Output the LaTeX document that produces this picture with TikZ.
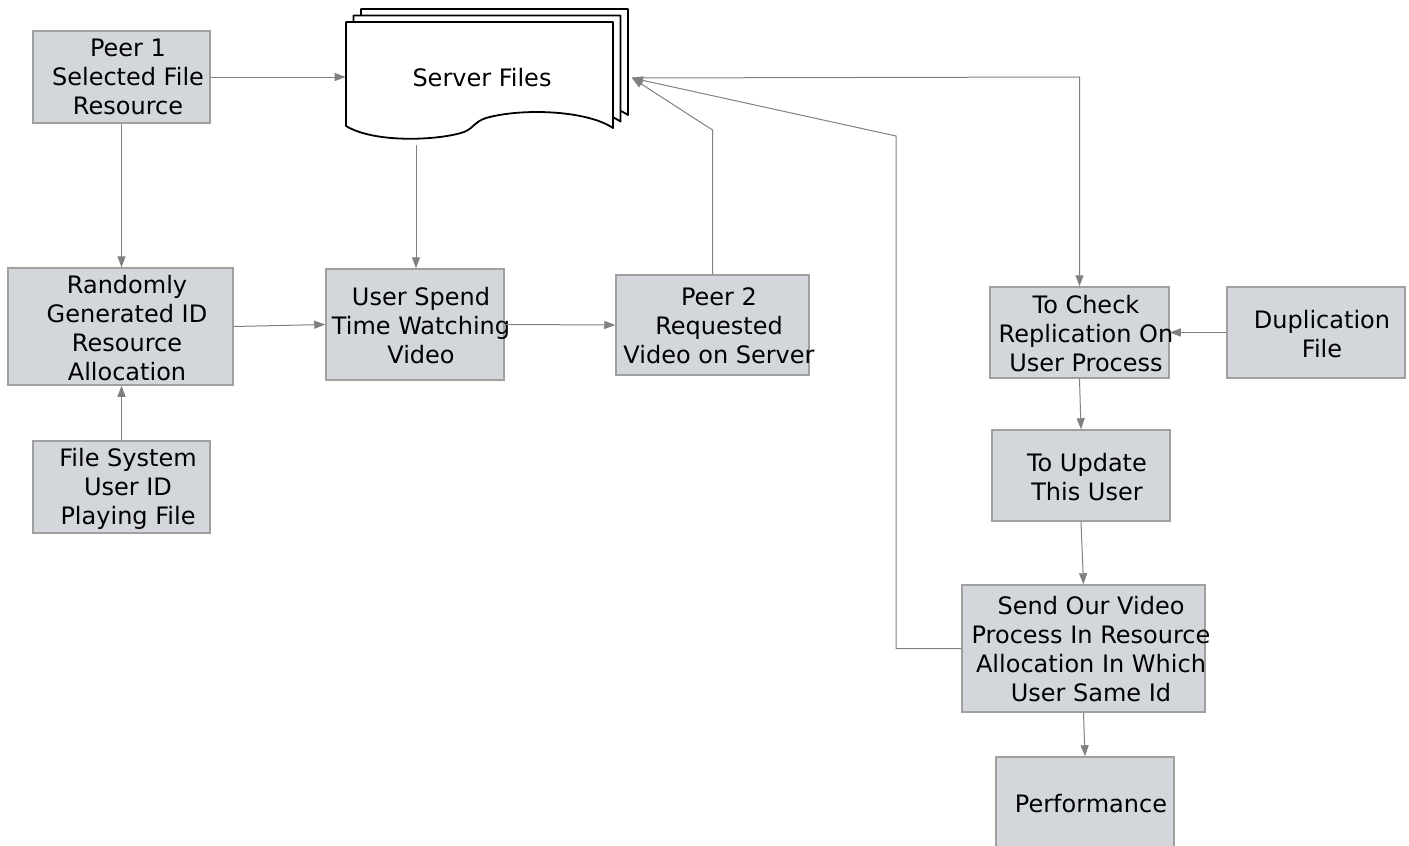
\documentclass[tikz,border=0pt]{standalone}
\usepackage{fontspec}
\setmainfont{DejaVu Sans}
\usetikzlibrary{arrows.meta,calc}
\definecolor{boxfill}{RGB}{211,215,220}
\definecolor{boxline}{RGB}{160,160,160}
\definecolor{arrgray}{RGB}{128,128,128}
\tikzset{
  box/.style={draw=boxline, fill=boxfill, line width=0.75pt, rectangle, inner sep=0pt},
  txt/.style={align=center, inner sep=0pt, font=\fontsize{12}{14.5}\selectfont},
  arr/.style={draw=arrgray, line width=0.5pt, -{Triangle[length=5.5pt,width=4pt]}},
  doc/.pic={
    \draw[fill=white, line width=0.9pt, line join=round]
      (0,0) -- (267,0) -- (267,106)
      .. controls (240,88) and (175,86) .. (140,96)
      .. controls (128,100) and (128,106) .. (118,110)
      .. controls (95,118) and (30,122) .. (0,104) -- cycle;
  }
}
\begin{document}
\begin{tikzpicture}[x=0.5pt, y=-0.5pt]
\useasboundingbox (0,0) rectangle (1409,846);
\clip (0,0) rectangle (1409,846);

% Server files (multi-document)
\pic at (361,9) {doc};
\pic at (353.5,15.5) {doc};
\pic at (346,22) {doc};
\node[minimum width=133.5pt, minimum height=55pt, inner sep=0pt] (server) at (479.5,77) {};
\node[txt] (serverl) at (482,78) {Server Files};

% Boxes
\node[box, minimum width=88.5pt, minimum height=46pt] (peer1) at (121.5,77) {};
\node[txt] (peer1l) at (128,77) {Peer 1\\Selected File\\Resource};

\node[box, minimum width=112.5pt, minimum height=58.5pt] (rand) at (120.5,326.5) {};
\node[txt] (randl) at (127,328) {Randomly\\Generated ID\\Resource\\Allocation};

\node[box, minimum width=89pt, minimum height=55.5pt] (user) at (415,324.5) {};
\node[txt] (userl) at (421,326) {User Spend\\Time Watching\\Video};

\node[box, minimum width=96.5pt, minimum height=50pt] (peer2) at (712.5,325) {};
\node[txt] (peer2l) at (719,326) {Peer 2\\Requested\\Video on Server};

\node[box, minimum width=88.5pt, minimum height=46pt] (fsys) at (121.5,487) {};
\node[txt] (fsysl) at (128,489) {File System\\User ID\\Playing File};

\node[box, minimum width=89.5pt, minimum height=45.5pt] (check) at (1079.5,332.5) {};
\node[txt] (checkl) at (1086,334) {To Check\\Replication On\\User Process};

\node[box, minimum width=89pt, minimum height=45.5pt] (dup) at (1316,332.5) {};
\node[txt] (dupl) at (1322,334) {Duplication\\File};

\node[box, minimum width=89pt, minimum height=45.5pt] (upd) at (1081,475.5) {};
\node[txt] (updl) at (1087,477) {To Update\\This User};

\node[box, minimum width=121.5pt, minimum height=63.5pt] (send) at (1083.5,648.5) {};
\node[txt] (sendl) at (1091,649) {Send Our Video\\Process In Resource\\Allocation In Which\\User Same Id};

\node[box, minimum width=89pt, minimum height=49pt] (perf) at (1085,806) {};
\node[txt] (perfl) at (1091,804) {Performance};

% Connector points
\coordinate (sfin) at (632,78);
\coordinate (sfout) at (416,145);

% Connectors
\draw[arr] (peer1.east) -- (server.west);
\draw[arr] (peer1.south) -- (peer1.south |- rand.north);
\draw[arr] (sfout) -- (sfout |- user.north);
\draw[arr] (rand.east) -- (user.west);
\draw[arr] (user.east) -- (peer2.west);
\draw[arr] (fsys.north) -- (fsys.north |- rand.south);
\draw[arr] (peer2.north) -- (peer2.north |- 0,130) -- (sfin);
\draw[arr] (send.west) -| (896,136) -- (sfin);
\draw[arr] (sfin) -- (1079.5,77) -- (check.north);
\draw[arr] (dup.west) -- (check.east);
\draw[arr] (check.south) -- (upd.north);
\draw[arr] (upd.south) -- (send.north);
\draw[arr] (send.south) -- (perf.north);
\end{tikzpicture}
\end{document}
